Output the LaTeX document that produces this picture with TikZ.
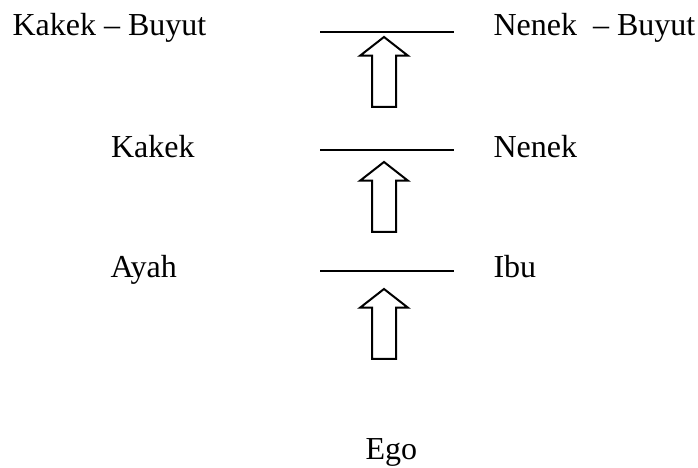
\documentclass[tikz,border=0pt]{standalone}
\usepackage{fontspec}
\setmainfont{Liberation Serif}
\usetikzlibrary{shapes.arrows}
\usetikzlibrary{positioning}

\begin{document}
\begin{tikzpicture}[x = 0.375pt, y = -0.375pt, font = \fontsize{12}{14}\selectfont]
\tikzset{
  member/.style = {inner sep = 0pt, anchor = base west},
  bar/.style = {line width = 0.75pt},
  upArrow/.style = {single arrow, draw, line width = 0.75pt, shape border rotate = 90,
    inner sep = 4.125pt, single arrow head extend = 4.5pt, single arrow tip angle = 104,
    minimum height = 26.25pt, anchor = tail},
}
\useasboundingbox (0,0) rectangle (698,468);
% generations
\node [member] (kakekBuyut) at (12,36) {Kakek -- Buyut};
\node [member] (nenekBuyut) at (493,36) {Nenek \ -- Buyut};
\node [member] (kakek) at (110.5,157.3) {Kakek};
\node [member] (nenek) at (493,157.3) {Nenek};
\node [member] (ayah) at (110,278) {Ayah};
\node [member] (ibu) at (493,278) {Ibu};
\node [member] (ego) at (365,460) {Ego};
% marriage lines
\coordinate (buyutL) at (320,32);
\coordinate (buyutR) at (454,32);
\coordinate (kakekL) at (320,150);
\coordinate (kakekR) at (454,150);
\coordinate (ayahL) at (320,271);
\coordinate (ayahR) at (454,271);
\draw [bar] (buyutL) -- (buyutR);
\draw [bar] (kakekL) -- (kakekR);
\draw [bar] (ayahL) -- (ayahR);
% block arrows
\node [upArrow] (toBuyut) at (384,108) {};
\node [upArrow] (toKakek) at (384,233) {};
\node [upArrow] (toAyah) at (384,360) {};
\end{tikzpicture}
\end{document}
